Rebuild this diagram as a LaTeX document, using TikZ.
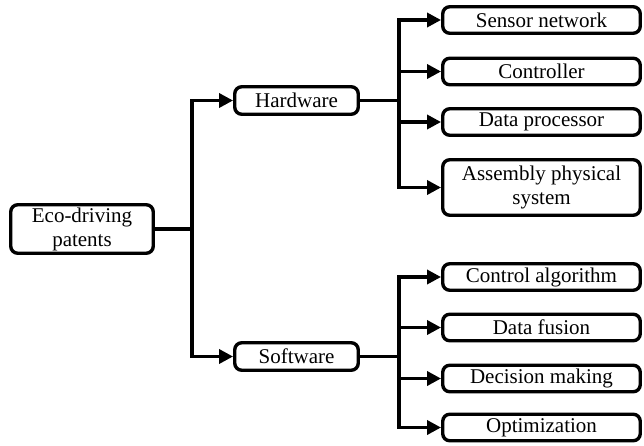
\documentclass[tikz,border=0pt]{standalone}
\usepackage{fontspec}
\setmainfont{Liberation Serif}
\usetikzlibrary{arrows.meta}
\begin{document}
\begin{tikzpicture}[x=1pt,y=-1pt,
  box/.style={draw, line width=3.4pt, rounded corners=7pt, align=center, inner sep=0pt,
    font=\fontsize{21}{24}\selectfont},
  leaf/.style={box, minimum width=197.5pt, minimum height=26.5pt},
  mid/.style={box, minimum width=123.5pt, minimum height=27.5pt},
  conn/.style={line width=3.4pt, line cap=rect},
  arr/.style={conn, -{Triangle[length=14pt,width=14pt]}}]
\useasboundingbox (0,0) rectangle (644,445);
\node[box, minimum width=142.5pt, minimum height=48.5pt] (eco) at (82,229) {Eco-driving\\patents};
\node[mid] (hw) at (296.5,100.5) {Hardware};
\node[mid] (sw) at (296.5,356.5) {Software};
\node[leaf] (sn) at (541.5,20) {Sensor network};
\node[leaf] (ct) at (541.5,71.5) {Controller};
\node[leaf] (dp) at (541.5,122) {Data processor};
\node[leaf, minimum height=55.5pt] (as) at (541.5,187.5) {Assembly physical\\system};
\node[leaf] (ca) at (541.5,277) {Control algorithm};
\node[leaf] (df) at (541.5,327.5) {Data fusion};
\node[leaf] (dm) at (541.5,378.5) {Decision making};
\node[leaf] (op) at (541.5,427.5) {Optimization};
\coordinate (j0) at (192,229);
\coordinate (j1) at (399,100.5);
\coordinate (j2) at (399,356.5);
% trunk
\draw[conn] (eco.east) -- (j0);
\draw[conn] (j0 |- hw) -- (j0 |- sw);
\draw[arr] (j0 |- hw) -- (hw.west);
\draw[arr] (j0 |- sw) -- (sw.west);
% hardware branch
\draw[conn] (hw.east) -- (j1);
\draw[conn] (j1 |- sn) -- (j1 |- as);
\foreach \n in {sn,ct,dp,as} \draw[arr] (j1 |- \n) -- (\n.west);
% software branch
\draw[conn] (sw.east) -- (j2);
\draw[conn] (j2 |- ca) -- (j2 |- op);
\foreach \n in {ca,df,dm,op} \draw[arr] (j2 |- \n) -- (\n.west);
\end{tikzpicture}
\end{document}
